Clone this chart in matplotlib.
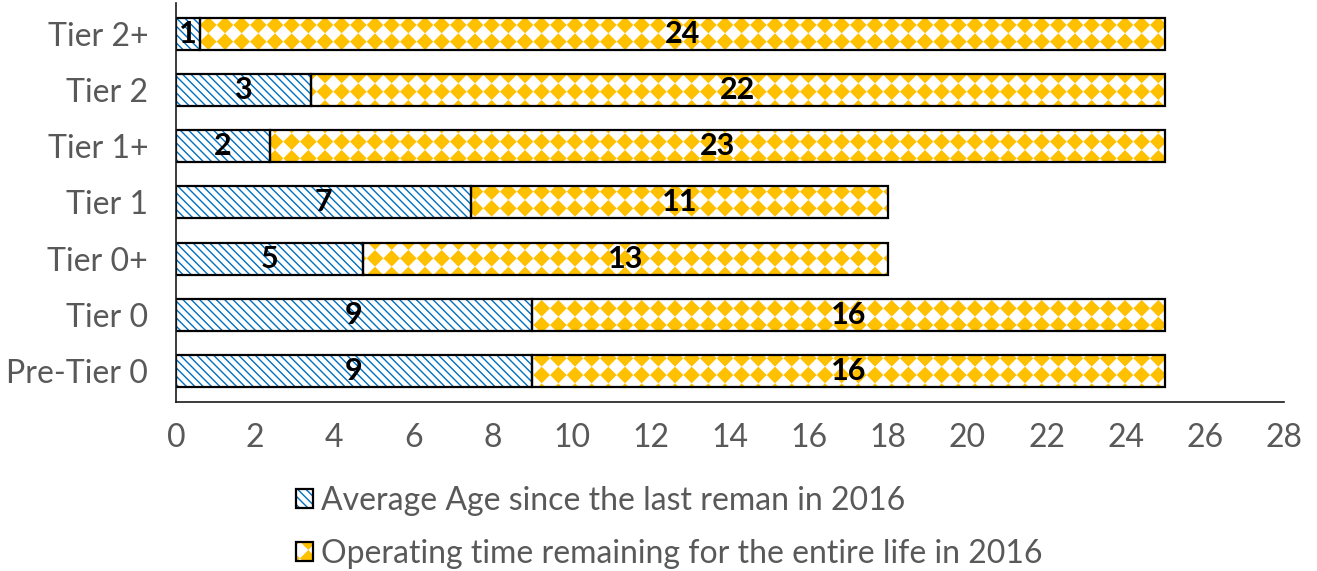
import numpy as np
import matplotlib
matplotlib.use("Agg")
import matplotlib.pyplot as plt
import matplotlib.hatch as mhatch
from matplotlib.path import Path
from matplotlib.patches import Patch

# categories listed top to bottom
tiers = ["Tier 2+", "Tier 2", "Tier 1+", "Tier 1", "Tier 0+", "Tier 0", "Pre-Tier 0"]
avg_age = [0.6, 3.4, 2.38, 7.45, 4.73, 9.0, 9.0]
remaining = [24.4, 21.6, 22.62, 10.55, 13.27, 16.0, 16.0]
xticks = list(range(0, 29, 2))
series_names = ["Average Age since the last reman in 2016",
                "Operating time remaining for the entire life in 2016"]

BLUE = "#0070C0"
GOLD = "#FFC000"
GREY = "#595959"


class DiamondGrid(mhatch.HatchPatternBase):
    """Filled diamonds on a square grid, used in place of the '*' hatch."""

    def __init__(self, hatch, density):
        self.num_rows = hatch.count('*') * density
        self.num_vertices = self.num_rows ** 2 * 5

    def set_vertices_and_codes(self, vertices, codes):
        n = self.num_rows
        r = 0.44 / n
        diamond = np.array([[0, -r], [r, 0], [0, r], [-r, 0], [0, -r]])
        centres = (np.arange(n) + 0.5) / n
        k = 0
        for cx in centres:
            for cy in centres:
                vertices[k:k + 5] = diamond + [cx, cy]
                codes[k] = Path.MOVETO
                codes[k + 1:k + 4] = Path.LINETO
                codes[k + 4] = Path.CLOSEPOLY
                k += 5


mhatch._hatch_types[mhatch._hatch_types.index(mhatch.Stars)] = DiamondGrid

plt.rcParams['font.family'] = ['Lato', 'DejaVu Sans']

fig = plt.figure(figsize=(13.17, 5.71), dpi=100)
ax = fig.add_axes([0.1336, 0.296, 0.8414, 0.699])

y = np.arange(len(tiers))
h = 0.57
avg_age = np.array(avg_age)
remaining = np.array(remaining)
blue_hatch = "\\" * 4

# hatched fills (edgecolor drives the hatch colour), then black outlines on top
ax.barh(y, avg_age, height=h, color="white", edgecolor=BLUE, linewidth=0,
        hatch=blue_hatch)
ax.barh(y, remaining, left=avg_age, height=h, color="white", edgecolor=GOLD,
        linewidth=0, hatch="*")
b1 = ax.barh(y, avg_age, height=h, fill=False, edgecolor="black", linewidth=1.6)
b2 = ax.barh(y, remaining, left=avg_age, height=h, fill=False,
             edgecolor="black", linewidth=1.6)

ax.bar_label(b1, labels=[f"{v:.0f}" for v in avg_age], label_type="center",
             fontsize=22, fontweight="bold", color="black")
ax.bar_label(b2, labels=[f"{v:.0f}" for v in remaining], label_type="center",
             fontsize=22, fontweight="bold", color="black")

ax.set_yticks(y)
ax.set_yticklabels(tiers)
ax.set_ylim(len(tiers) - 0.45, -0.55)
ax.set_xlim(0, 28)
ax.set_xticks(xticks)

ax.tick_params(axis="y", length=0, pad=20, labelsize=23, labelcolor=GREY)
ax.tick_params(axis="x", length=0, pad=15, labelsize=23, labelcolor=GREY)
for side in ("top", "right"):
    ax.spines[side].set_visible(False)
for side in ("left", "bottom"):
    ax.spines[side].set_color("#1a1a1a")
    ax.spines[side].set_linewidth(1.2)

handles = [Patch(facecolor="white", edgecolor=BLUE, hatch=blue_hatch, linewidth=0),
           Patch(facecolor="white", edgecolor=GOLD, hatch="*", linewidth=0)]
outlines = [Patch(fill=False, edgecolor="black", linewidth=1.6) for _ in handles]
leg = fig.legend([(hd, ol) for hd, ol in zip(handles, outlines)], series_names,
                 loc="center", bbox_to_anchor=(0.508, 0.076), frameon=False,
                 fontsize=23, labelcolor=GREY, labelspacing=0.72,
                 handlelength=0.55, handleheight=0.55, handletextpad=0.25)

fig.savefig("out.png", dpi=100)
